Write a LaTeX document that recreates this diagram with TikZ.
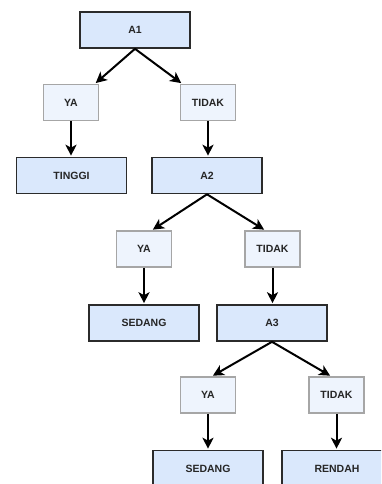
\documentclass[tikz,border=0pt]{standalone}
\usepackage{fontspec}
\setmainfont{Liberation Sans}
\usetikzlibrary{arrows.meta,calc}
\definecolor{dfill}{HTML}{DAE8FC}
\definecolor{lfill}{HTML}{EEF4FD}
\definecolor{dline}{HTML}{2B2B2B}
\definecolor{lline}{HTML}{A6A6A6}
\begin{document}
\begin{tikzpicture}[x=1pt,y=-1pt,
  dbox/.style={draw=dline,line width=1.6pt,fill=dfill,minimum width=110pt,minimum height=36pt,inner sep=0pt,font=\fontsize{10.5}{12}\selectfont\bfseries,text=black!85},
  lbox/.style={draw=lline,line width=1.6pt,fill=lfill,minimum width=55pt,minimum height=36pt,inner sep=0pt,font=\fontsize{10.5}{12}\selectfont\bfseries,text=black!85},
  arr/.style={draw=black,line width=2pt,-{Stealth[length=11pt,width=11pt,inset=3pt]},shorten >=1pt}]
\useasboundingbox (0,0) rectangle (381,484);
\clip (0,0) rectangle (381,484);
\node[dbox] (a1) at (135,30) {A1};
\node[lbox] (ya1) at (71,102.5) {YA};
\node[lbox] (td1) at (208,102.5) {TIDAK};
\node[dbox] (tinggi) at (71.5,175.5) {TINGGI};
\node[dbox] (a2) at (207,175.5) {A2};
\node[lbox] (ya2) at (144,249) {YA};
\node[lbox] (td2) at (272.5,249) {TIDAK};
\node[dbox] (sedang1) at (144,323) {SEDANG};
\node[dbox] (a3) at (272,323) {A3};
\node[lbox] (ya3) at (208,395) {YA};
\node[lbox] (td3) at (336.5,395) {TIDAK};
\node[dbox] (sedang2) at (208,468.5) {SEDANG};
\node[dbox] (rendah) at (337,468.5) {RENDAH};
\draw[arr] (a1.south) -- ($(ya1.north)+(24,0)$);
\draw[arr] (a1.south) -- ($(td1.north)+(-26,0)$);
\draw[arr] (ya1.south) -- (ya1.south |- tinggi.north);
\draw[arr] (td1.south) -- (td1.south |- a2.north);
\draw[arr] (a2.south) -- ($(ya2.north)+(8,0)$);
\draw[arr] (a2.south) -- ($(td2.north)+(-7.5,0)$);
\draw[arr] (ya2.south) -- (ya2.south |- sedang1.north);
\draw[arr] (td2.south) -- (td2.south |- a3.north);
\draw[arr] (a3.south) -- ($(ya3.north)+(4,0)$);
\draw[arr] (a3.south) -- ($(td3.north)+(-5.5,0)$);
\draw[arr] (ya3.south) -- (ya3.south |- sedang2.north);
\draw[arr] (td3.south) -- (td3.south |- rendah.north);
\end{tikzpicture}
\end{document}
